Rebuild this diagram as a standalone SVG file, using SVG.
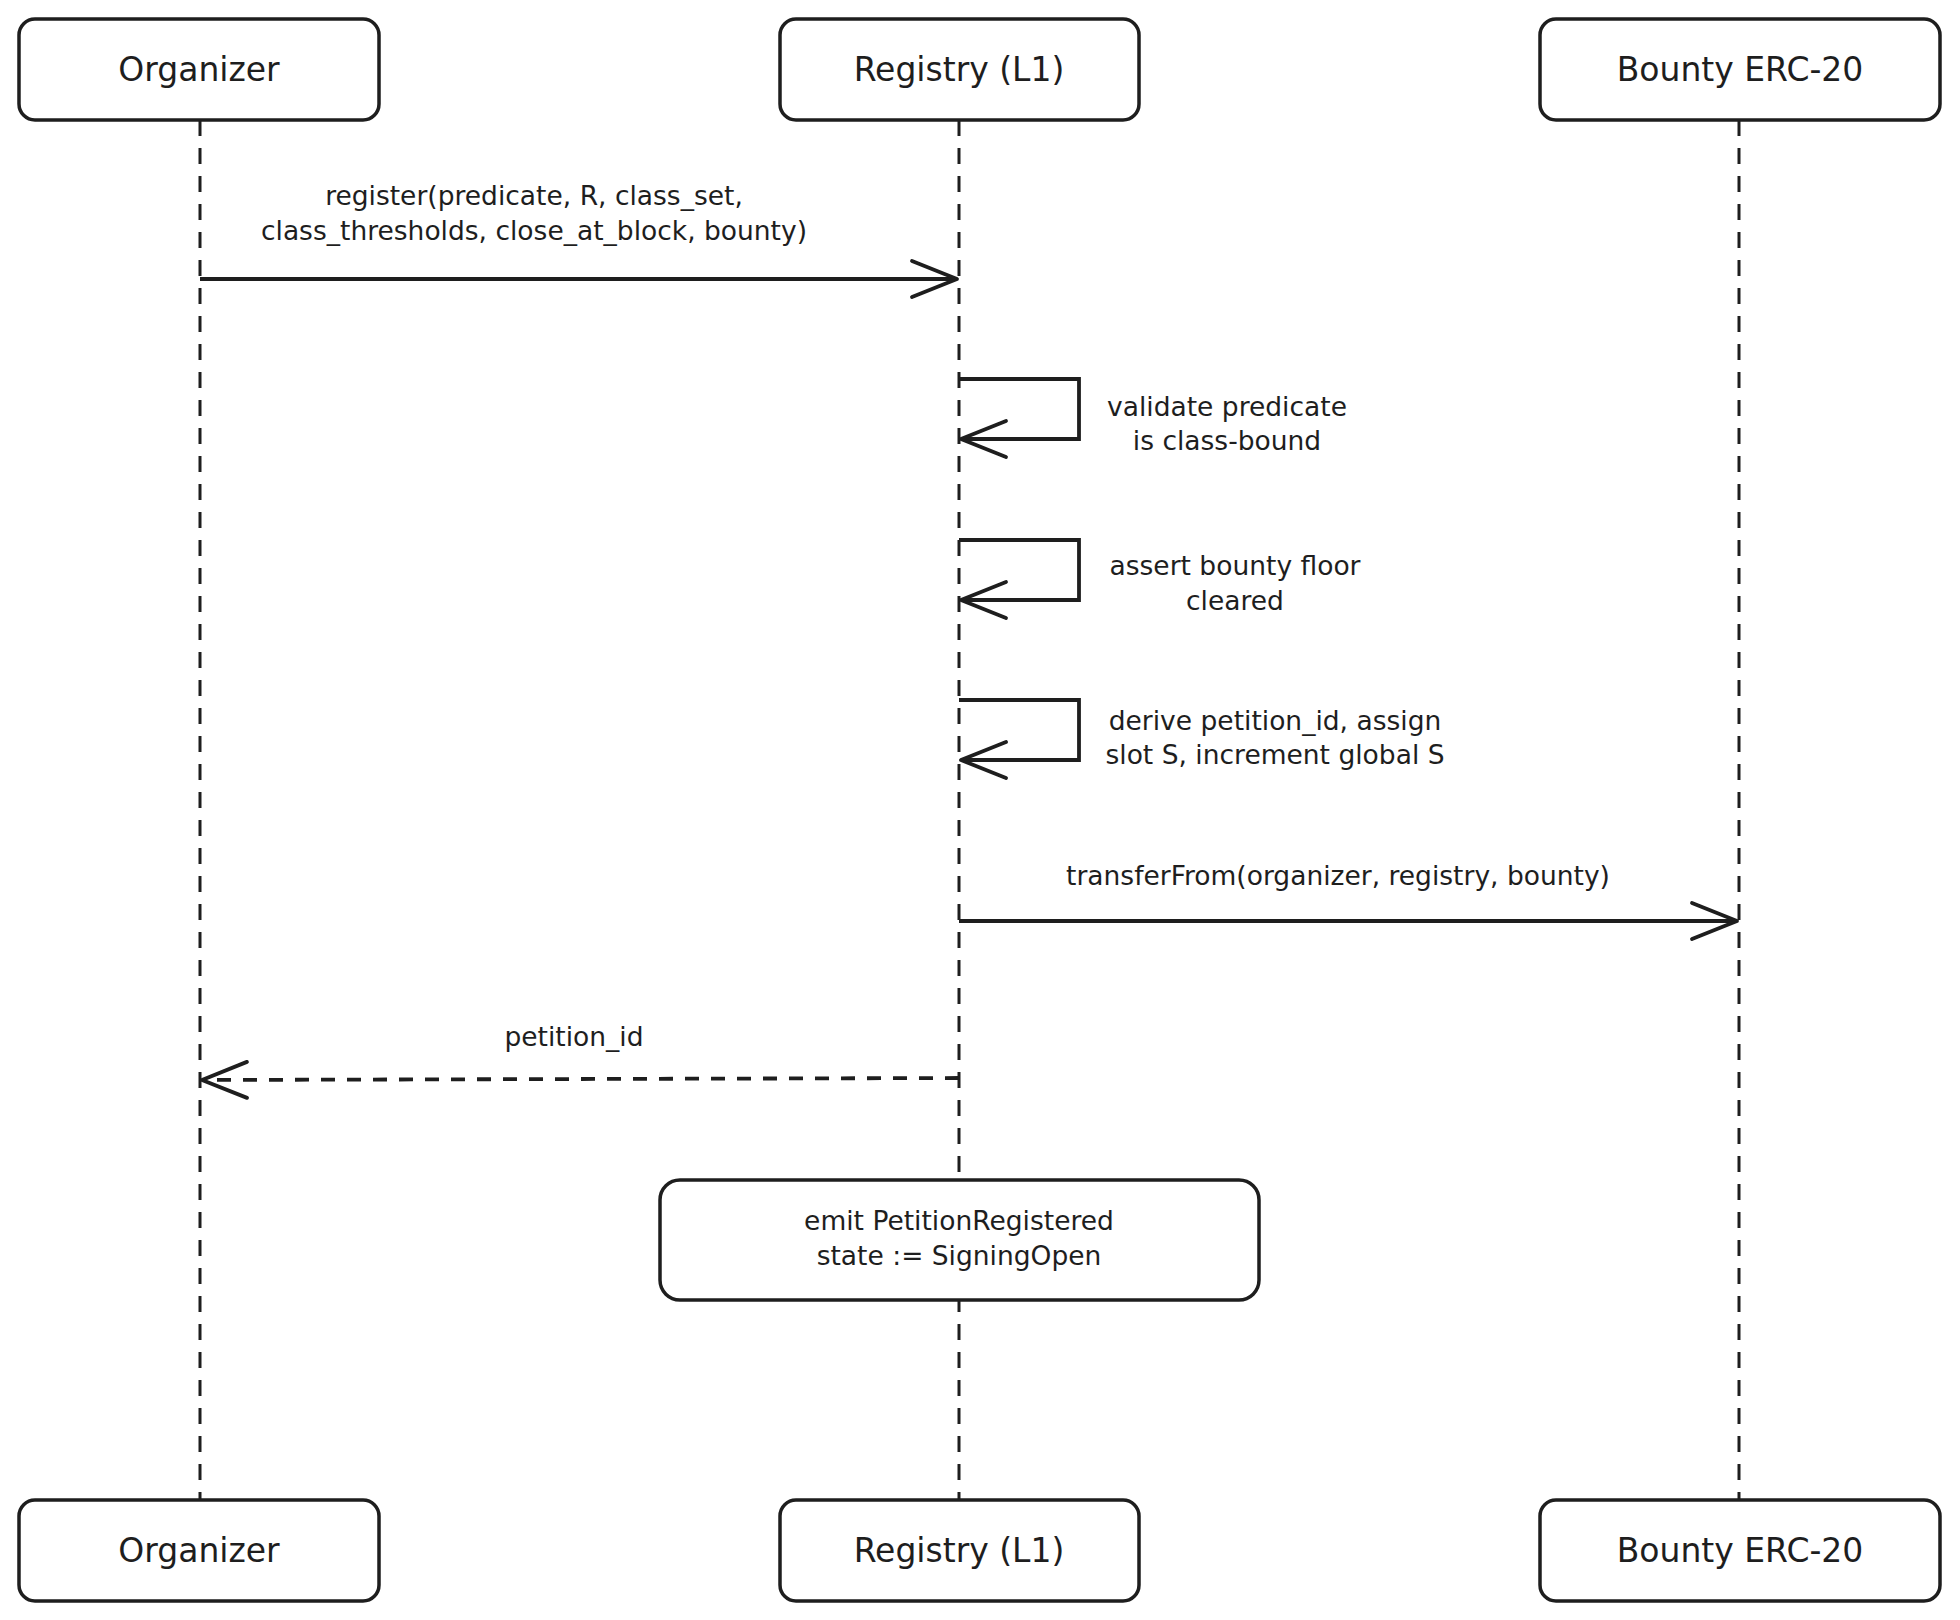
<svg xmlns="http://www.w3.org/2000/svg" width="1960" height="1620" viewBox="0 0 1960 1620">
<style>
.box{fill:#fff;stroke:#1e1e1e;stroke-width:3.5}
.life{fill:none;stroke:#1e1e1e;stroke-width:3;stroke-dasharray:16 12}
.msg{fill:none;stroke:#1e1e1e;stroke-width:3.8;marker-end:url(#ah)}
.ret{fill:none;stroke:#1e1e1e;stroke-width:3.8;stroke-dasharray:14 12;marker-end:url(#ah)}
.hd{font-family:"DejaVu Sans",sans-serif;font-size:33px;fill:#1e1e1e;text-anchor:middle}
.lb{font-family:"DejaVu Sans",sans-serif;font-size:26.5px;fill:#1e1e1e;text-anchor:middle}
</style>
<defs>
<marker id="ah" markerUnits="userSpaceOnUse" markerWidth="60" markerHeight="50" refX="48" refY="22" orient="auto">
<path d="M3,4 L48,22 L3,40" fill="none" stroke="#1e1e1e" stroke-width="3.8" stroke-linecap="round" stroke-linejoin="round"/>
</marker>
</defs>
<rect width="1960" height="1620" fill="#fff"/>
<g id="lifelines">
<line class="life" x1="200" y1="120" x2="200" y2="1500"/>
<line class="life" x1="959" y1="120" x2="959" y2="1500"/>
<line class="life" x1="1739" y1="120" x2="1739" y2="1500"/>
</g>
<g id="connectors">
<path class="msg" d="M200,279 H957"/>
<text class="lb" x="534" y="205">register(predicate, R, class_set,</text>
<text class="lb" x="534" y="240">class_thresholds, close_at_block, bounty)</text>
<path class="msg" d="M959,379 H1079 V439 H961"/>
<text class="lb" x="1227" y="416">validate predicate</text>
<text class="lb" x="1227" y="450">is class-bound</text>
<path class="msg" d="M959,540 H1079 V600 H961"/>
<text class="lb" x="1235" y="575">assert bounty floor</text>
<text class="lb" x="1235" y="610">cleared</text>
<path class="msg" d="M959,700 H1079 V760 H961"/>
<text class="lb" x="1275" y="730">derive petition_id, assign</text>
<text class="lb" x="1275" y="764">slot S, increment global S</text>
<path class="msg" d="M959,921 H1737"/>
<text class="lb" x="1338" y="885">transferFrom(organizer, registry, bounty)</text>
<path class="ret" d="M959,1078 L202,1080"/>
<text class="lb" x="574" y="1046">petition_id</text>
</g>
<g id="organizer-top"><rect class="box" x="19" y="19" width="360" height="101" rx="16"/><text class="hd" x="199" y="81">Organizer</text></g>
<g id="registry-top"><rect class="box" x="780" y="19" width="359" height="101" rx="16"/><text class="hd" x="959" y="81">Registry (L1)</text></g>
<g id="bounty-top"><rect class="box" x="1540" y="19" width="400" height="101" rx="16"/><text class="hd" x="1740" y="81">Bounty ERC-20</text></g>
<g id="note"><rect class="box" x="660" y="1180" width="599" height="120" rx="20"/><text class="lb" x="959" y="1230">emit PetitionRegistered</text><text class="lb" x="959" y="1265">state := SigningOpen</text></g>
<g id="organizer-bottom"><rect class="box" x="19" y="1500" width="360" height="101" rx="16"/><text class="hd" x="199" y="1562">Organizer</text></g>
<g id="registry-bottom"><rect class="box" x="780" y="1500" width="359" height="101" rx="16"/><text class="hd" x="959" y="1562">Registry (L1)</text></g>
<g id="bounty-bottom"><rect class="box" x="1540" y="1500" width="400" height="101" rx="16"/><text class="hd" x="1740" y="1562">Bounty ERC-20</text></g>
</svg>
